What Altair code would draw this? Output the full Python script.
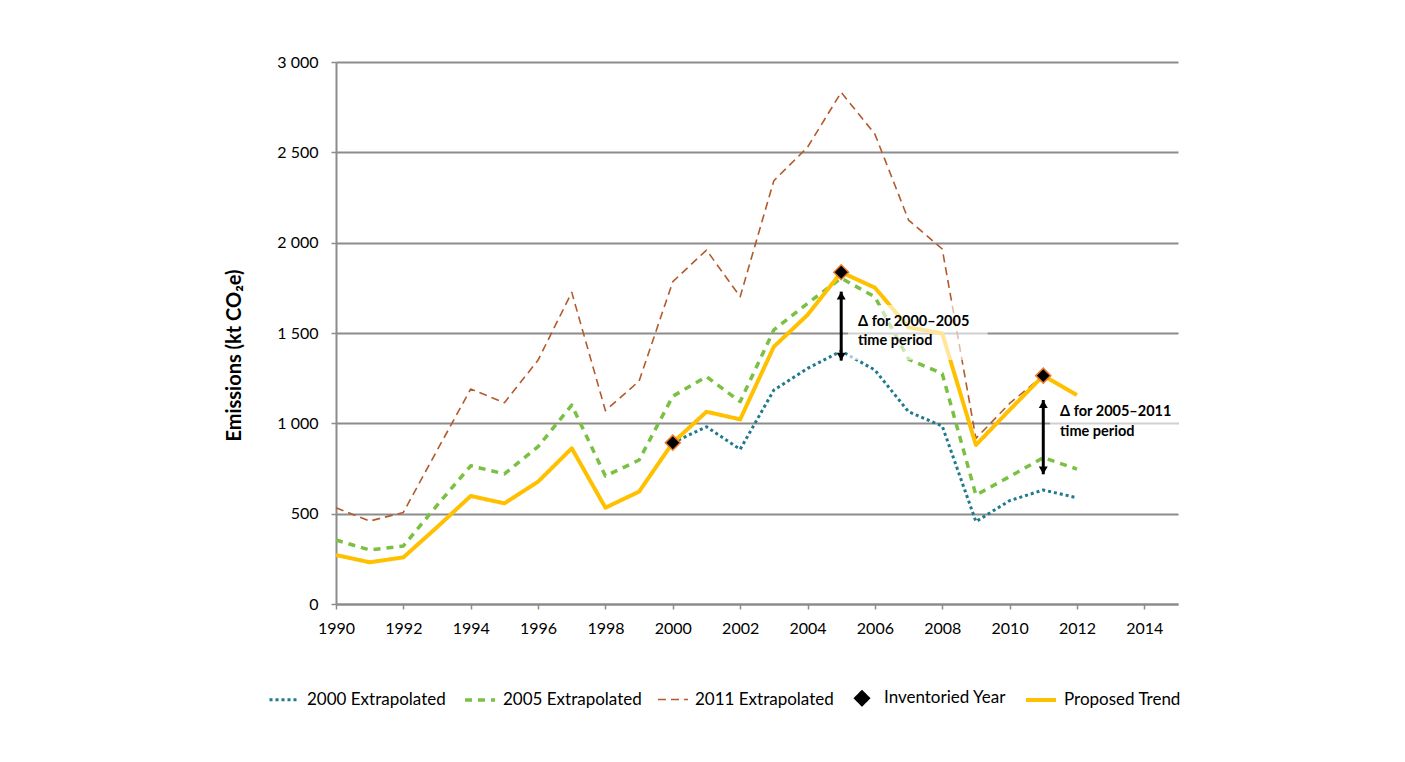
import altair as alt
import pandas as pd

# ---------------- data ----------------
years_full = list(range(1990, 2013))
proposed_trend = [271, 231, 258, 425, 598, 557, 677, 862, 533, 622, 893, 1064,
                  1022, 1424, 1600, 1836, 1751, 1531, 1498, 880, 1074, 1264, 1157]
extrap_2005 = [354, 299, 321, 546, 765, 720, 871, 1101, 708, 797, 1150, 1258,
               1120, 1517, 1664, 1803, 1700, 1355, 1275, 603, 705, 810, 747]
years_2011 = list(range(1990, 2012))
extrap_2011 = [533, 459, 507, 850, 1190, 1114, 1350, 1725, 1070, 1234, 1784, 1959,
               1701, 2343, 2528, 2832, 2601, 2125, 1965, 917, 1110, 1264]
years_2000 = list(range(2000, 2013))
extrap_2000 = [893, 981, 856, 1184, 1304, 1400, 1295, 1064, 985, 456, 572, 631, 588]
inv_years = [2000, 2005, 2011]
inv_values = [893, 1836, 1264]

series_names = ["2000 Extrapolated", "2005 Extrapolated", "2011 Extrapolated",
                "Inventoried Year", "Proposed Trend"]

# annotations: double arrows and labels
arrow_years = [2005, 2011]
arrow_low = [1347, 718]
arrow_high = [1729, 1129]
label_years = [2005.5, 2005.5, 2011.5, 2011.5]
label_values = [1561, 1456, 1063, 952]
label_texts = ["Δ for 2000–2005", "time period", "Δ for 2005–2011", "time period"]
box_x1 = [2005.2, 2011.2]
box_x2 = [2009.35, 2015.0]
box_y1 = [1350, 880]
box_y2 = [1655, 1129]

y_ticks = [0, 500, 1000, 1500, 2000, 2500, 3000]
x_ticks = list(range(1990, 2016))

# ---------------- styles ----------------
series_colors = ["#1F7A8C", "#7AC143", "#B35A2B", "#000000", "#FFC000"]
series_dash = [[3, 3], [7, 6], [8, 5], [1, 0], [1, 0]]
DIAMOND = "M-0.5,0L0,-0.5L0.5,0L0,0.5Z"
series_shapes = ["stroke", "stroke", "stroke", DIAMOND, "stroke"]
series_widths = [3, 3.5, 1.6, 1.5, 4]
SYMBOL_SIZE = 900
FONT = "Lato"

# ---------------- tables ----------------
rows = []
for yr, v in zip(years_2011, extrap_2011):
    rows.append({"year": yr, "value": v, "series": "2011 Extrapolated"})
for yr, v in zip(years_full, extrap_2005):
    rows.append({"year": yr, "value": v, "series": "2005 Extrapolated"})
for yr, v in zip(years_2000, extrap_2000):
    rows.append({"year": yr, "value": v, "series": "2000 Extrapolated"})
for yr, v in zip(years_full, proposed_trend):
    rows.append({"year": yr, "value": v, "series": "Proposed Trend"})
lines_df = pd.DataFrame(rows)

inv_df = pd.DataFrame({"year": inv_years, "value": inv_values,
                       "series": ["Inventoried Year"] * len(inv_years)})
arrow_df = pd.DataFrame({"year": arrow_years, "low": arrow_low, "high": arrow_high})
label_df = pd.DataFrame({"year": label_years, "value": label_values, "text": label_texts})
box_df = pd.DataFrame({"x1": box_x1, "x2": box_x2, "y1": box_y1, "y2": box_y2})

x_scale = alt.Scale(domain=[1990, 2015], nice=False, zero=False)
y_scale = alt.Scale(domain=[0, 3000], nice=False)

x_axis = alt.Axis(values=x_ticks, grid=False, title=None,
                  labelExpr="datum.value % 2 == 0 ? format(datum.value, 'd') : ''",
                  labelFont=FONT, labelFontSize=16, labelColor="#000000",
                  labelPadding=11, tickSize=5, tickColor="#8C8C8C", tickWidth=1.5,
                  domainColor="#8C8C8C", domainWidth=2, labelFlush=False,
                  labelOverlap=False)
y_axis = alt.Axis(values=y_ticks, grid=True, gridColor="#8C8C8C", gridWidth=2,
                  labelExpr="replace(format(datum.value, ','), ',', ' ')",
                  labelFont=FONT, labelFontSize=16, labelColor="#000000",
                  labelPadding=13, tickSize=5, tickColor="#8C8C8C", tickWidth=1.5,
                  domainColor="#8C8C8C", domainWidth=2,
                  title="Emissions (kt CO₂e)", titleFont=FONT, titleFontSize=20,
                  titleFontWeight="bold", titleColor="#000000", titlePadding=32,
                  titleY=293)

legend = alt.Legend(title=None, orient="none", direction="horizontal",
                    legendX=-68, legendY=620, labelFont=FONT, labelFontSize=17,
                    labelColor="#000000", columnPadding=12, symbolStrokeWidth=3,
                    symbolSize=SYMBOL_SIZE, labelOffset=6)

color_enc = alt.Color("series:N", scale=alt.Scale(domain=series_names, range=series_colors),
                      legend=legend)
dash_enc = alt.StrokeDash("series:N", scale=alt.Scale(domain=series_names, range=series_dash),
                          legend=legend)
width_enc = alt.StrokeWidth("series:N",
                            scale=alt.Scale(type="ordinal", domain=series_names, range=series_widths),
                            legend=legend)

base_x = alt.X("year:Q", scale=x_scale, axis=x_axis)
base_y = alt.Y("value:Q", scale=y_scale, axis=y_axis)

lines = alt.Chart(lines_df).mark_line(strokeCap="butt", strokeJoin="round").encode(
    x=base_x, y=base_y, color=color_enc, strokeDash=dash_enc, strokeWidth=width_enc,
    detail="series:N"
)

points = alt.Chart(inv_df).mark_point(filled=True, opacity=1, stroke="#ED7D31",
                                      strokeWidth=1.5, size=SYMBOL_SIZE).encode(
    x=alt.X("year:Q", scale=x_scale),
    y=alt.Y("value:Q", scale=y_scale),
    color=color_enc,
    shape=alt.Shape("series:N", scale=alt.Scale(domain=series_names, range=series_shapes),
                    legend=legend),
)

boxes = alt.Chart(box_df).mark_rect(color="white", opacity=0.6).encode(
    x=alt.X("x1:Q", scale=x_scale), x2="x2:Q",
    y=alt.Y("y1:Q", scale=y_scale), y2="y2:Q",
)

shafts = alt.Chart(arrow_df).mark_rule(color="black", strokeWidth=3).encode(
    x=alt.X("year:Q", scale=x_scale),
    y=alt.Y("low:Q", scale=y_scale), y2="high:Q",
)
heads_up = alt.Chart(arrow_df).mark_point(shape="triangle-up", filled=True, color="black",
                                          size=80, opacity=1, yOffset=4).encode(
    x=alt.X("year:Q", scale=x_scale), y=alt.Y("high:Q", scale=y_scale))
heads_down = alt.Chart(arrow_df).mark_point(shape="triangle-down", filled=True, color="black",
                                            size=80, opacity=1, yOffset=-4).encode(
    x=alt.X("year:Q", scale=x_scale), y=alt.Y("low:Q", scale=y_scale))

labels = alt.Chart(label_df).mark_text(align="left", baseline="middle", font=FONT,
                                       fontSize=14.5, fontWeight="bold", color="black").encode(
    x=alt.X("year:Q", scale=x_scale), y=alt.Y("value:Q", scale=y_scale), text="text:N")

chart = alt.layer(lines, boxes, shafts, heads_up, heads_down, points, labels).properties(
    width=842, height=542,
    autosize=alt.AutoSizeParams(type="none"),
    padding={"left": 328, "top": 54, "right": 200, "bottom": 150},
    background="white",
).configure_view(stroke=None)

chart.save("out.html", embed_options={"renderer": "svg", "actions": False})
